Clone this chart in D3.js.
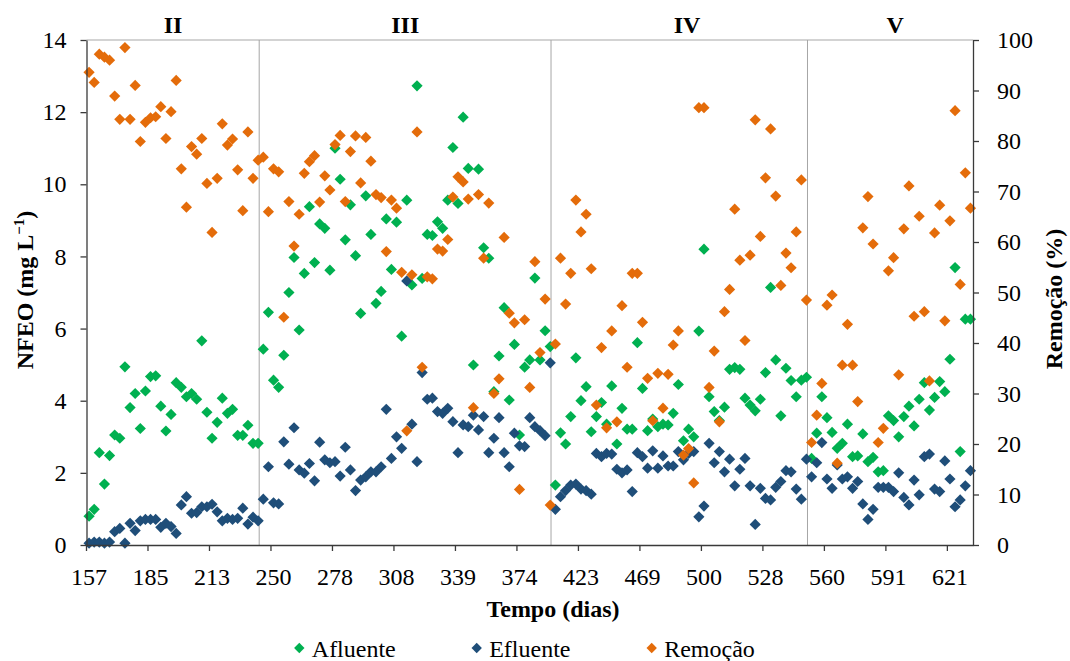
<!DOCTYPE html>
<html>
<head>
<meta charset="utf-8">
<script src="https://cdn.jsdelivr.net/npm/d3@7"></script>
<style>
  html, body { margin: 0; padding: 0; background: #fff; }
  svg { display: block; }
  svg text { font-family: 'Liberation Serif', 'Times New Roman', serif; }
</style>
</head>
<body>
<svg id="chart" width="1070" height="661"></svg>
<script>
// NFEO influent/effluent concentrations (mg L-1) and removal (%) per sample
const afluente = [
  0.80, 0.99, 2.56, 1.69, 2.48, 3.05, 2.96, 4.94, 3.81, 4.20,
  3.23, 4.27, 4.67, 4.69, 3.85, 3.16, 3.62, 4.50, 4.37, 4.11,
  4.20, 4.04, 5.66, 3.68, 2.96, 3.40, 4.07, 3.65, 3.76, 3.04,
  3.04, 3.32, 2.82, 2.82, 5.43, 6.45, 4.57, 4.37, 5.26, 7.00,
  7.97, 5.96, 7.53, 9.38, 7.83, 8.90, 8.78, 7.62, 11.0, 10.14,
  8.46, 9.43, 8.02, 6.42, 9.68, 8.61, 6.70, 7.03, 9.04, 7.64,
  8.95, 5.79, 9.56, 7.21, 12.73, 7.39, 8.61, 8.58, 8.96, 8.78,
  9.56, 11.02, 9.47, 11.86, 10.44, 4.99, 10.42, 8.24, 7.95, 4.25,
  5.24, 6.58, 4.02, 5.56, 3.05, 4.93, 5.13, 7.40, 5.13, 5.94,
  5.50, 1.66, 3.11, 2.80, 3.56, 5.19, 4.00, 4.39, 3.14, 3.56,
  3.95, 3.35, 4.41, 2.80, 3.79, 3.21, 3.21, 5.61, 4.34, 3.17,
  3.49, 3.28, 3.35, 3.33, 3.65, 4.45, 2.89, 3.21, 3.00, 5.93,
  8.20, 4.11, 3.70, 3.45, 3.82, 4.87, 4.92, 4.87, 4.07, 3.88,
  3.72, 4.04, 4.78, 7.14, 5.13, 3.58, 4.90, 4.56, 4.11, 4.57,
  4.65, 2.40, 3.10, 4.11, 3.53, 3.12, 2.68, 2.82, 3.35, 2.45,
  2.47, 3.08, 2.31, 2.43, 2.03, 2.06, 3.58, 3.45, 3.00, 3.56,
  3.85, 3.30, 4.04, 4.50, 3.74, 4.09, 4.53, 4.25, 5.15, 7.69,
  2.59, 6.26, 6.26
];

const efluente = [
  0.05, 0.08, 0.08, 0.05, 0.08, 0.37, 0.46, 0.05, 0.60, 0.40,
  0.67, 0.71, 0.71, 0.71, 0.49, 0.60, 0.51, 0.32, 1.11, 1.34,
  0.88, 0.90, 1.06, 1.06, 1.13, 0.92, 0.67, 0.74, 0.71, 0.74,
  1.02, 0.58, 0.77, 0.67, 1.27, 2.17, 1.17, 1.14, 2.86, 2.24,
  3.25, 2.08, 1.99, 2.26, 1.78, 2.85, 2.36, 2.28, 2.31, 1.91,
  2.71, 2.08, 1.51, 1.80, 1.89, 2.03, 2.03, 2.17, 3.76, 2.40,
  3.00, 2.68, 7.32, 3.35, 2.31, 4.78, 4.04, 4.07, 3.70, 3.65,
  3.79, 3.42, 2.56, 3.33, 3.28, 3.60, 3.19, 3.56, 2.56, 2.96,
  3.53, 2.56, 2.17, 3.10, 2.75, 2.73, 3.53, 3.28, 3.17, 3.03,
  5.05, 0.99, 1.34, 1.51, 1.66, 1.69, 1.55, 1.51, 1.41, 2.54,
  2.45, 2.54, 2.52, 2.10, 2.00, 2.08, 1.48, 2.56, 2.45, 2.13,
  2.61, 2.13, 2.47, 2.19, 2.19, 2.59, 2.36, 2.54, 2.59, 0.78,
  1.08, 2.82, 2.28, 2.59, 2.03, 2.38, 1.64, 2.10, 2.40, 1.64,
  0.57, 1.57, 1.29, 1.25, 1.60, 1.76, 2.06, 2.03, 1.55, 1.27,
  2.38, 1.89, 2.28, 2.84, 1.83, 1.57, 2.22, 1.83, 1.89, 1.57,
  1.76, 1.14, 0.71, 0.99, 1.60, 1.60, 1.60, 1.48, 2.00, 1.32,
  1.11, 1.80, 1.39, 2.45, 2.52, 1.55, 1.48, 2.33, 1.83, 1.06,
  1.25, 1.64, 2.06
];

const remocao = [
  93.6, 91.6, 97.2, 96.6, 96.0, 88.9, 84.3, 98.5, 84.3, 91.0,
  79.9, 83.7, 84.6, 84.8, 86.8, 80.5, 85.8, 92.0, 74.5, 66.9,
  78.9, 77.4, 80.5, 71.6, 61.9, 72.6, 83.4, 79.2, 80.4, 74.3,
  66.2, 81.8, 72.6, 76.2, 76.8, 66.0, 74.5, 73.9, 45.1, 68.0,
  59.2, 65.5, 73.6, 75.9, 77.1, 67.9, 73.1, 70.3, 79.3, 81.1,
  68.0, 77.9, 81.0, 71.7, 80.7, 76.0, 69.4, 68.8, 58.1, 68.3,
  66.7, 54.0, 22.6, 53.5, 81.8, 35.2, 53.1, 52.7, 58.6, 58.2,
  60.5, 68.9, 72.9, 71.9, 68.5, 27.2, 69.4, 56.8, 67.7, 30.0,
  32.9, 60.9, 45.9, 44.0, 11.0, 44.6, 31.2, 56.1, 38.1, 48.7,
  7.9, 39.8, 56.8, 47.7, 53.8, 68.3, 62.0, 65.5, 54.7, 27.7,
  39.1, 23.2, 42.4, 24.4, 47.4, 35.2, 53.8, 53.8, 44.1, 33.0,
  24.6, 34.0, 27.1, 33.8, 39.6, 42.4, 17.8, 19.1, 12.3, 86.6,
  86.6, 31.2, 38.4, 24.4, 46.2, 50.6, 66.5, 56.4, 40.5, 57.4,
  84.2, 61.1, 72.7, 82.4, 69.1, 51.4, 57.8, 54.9, 62.0, 72.3,
  48.5, 20.3, 25.7, 32.0, 47.5, 49.5, 16.2, 35.6, 43.7, 35.6,
  28.4, 62.8, 69.0, 59.6, 20.3, 23.1, 54.3, 56.9, 33.7, 62.6,
  71.1, 45.3, 65.1, 46.2, 32.5, 61.8, 67.3, 44.4, 64.2, 86.0,
  51.6, 73.7, 66.7
];

// Day labels shown every 12 samples on the category axis
const tickDays = [157, 185, 213, 250, 278, 308, 339, 374, 423, 469, 500, 528, 560, 591, 621];
const tickEvery = 12;

// Operational phases: boundaries and label positions in sample units
const phaseNames = ["II", "III", "IV", "V"];
const phaseLabelAt = [16.4, 61.7, 116.7, 157.3];
const phaseBreaks = [33.2, 90.15, 140.2];

const leftTicks = [0, 2, 4, 6, 8, 10, 12, 14];
const rightTicks = [0, 10, 20, 30, 40, 50, 60, 70, 80, 90, 100];

const series = [
  { name: "Afluente", values: afluente, axis: "left",  color: "#00B050" },
  { name: "Efluente", values: efluente, axis: "left",  color: "#1F4E79" },
  { name: "Remoção",  values: remocao,  axis: "right", color: "#E46C0A" }
];

const N = afluente.length;
const SERIF = "'Liberation Serif', 'Times New Roman', serif";
const svg = d3.select("#chart").attr("font-family", SERIF);
const box = { left: 86.5, right: 973, top: 40, bottom: 545 };
const FONT = 24;

const x = d3.scaleBand().domain(d3.range(N)).range([box.left, box.right]).padding(0);
const bw = x.bandwidth();
const cx = i => x(i) + bw / 2;
const xPos = v => box.left + (v + 0.5) * bw;   // fractional sample position
const yL = d3.scaleLinear().domain([0, 14]).range([box.bottom, box.top]);
const yR = d3.scaleLinear().domain([0, 100]).range([box.bottom, box.top]);

// top border of the plot area
svg.append("line")
  .attr("x1", box.left).attr("x2", box.right)
  .attr("y1", box.top).attr("y2", box.top)
  .attr("stroke", "#c4c4c4").attr("stroke-width", 1.3);

// phase separators
svg.append("g").selectAll("line").data(phaseBreaks).join("line")
  .attr("x1", d => xPos(d)).attr("x2", d => xPos(d))
  .attr("y1", box.top).attr("y2", box.bottom)
  .attr("stroke", "#a6a6a6").attr("stroke-width", 1);

// phase labels
svg.append("g").selectAll("text").data(phaseNames).join("text")
  .attr("x", (d, i) => xPos(phaseLabelAt[i]))
  .attr("y", 33)
  .attr("text-anchor", "middle")
  .attr("font-weight", "bold")
  .attr("font-size", FONT)
  .text(d => d);

const diamond = r => `M0,${-r}L${r},0L0,${r}L${-r},0Z`;

// markers
series.forEach(s => {
  const y = s.axis === "left" ? yL : yR;
  svg.append("g").selectAll("path").data(s.values).join("path")
    .attr("d", diamond(5.6))
    .attr("transform", (d, i) => `translate(${cx(i)},${y(d)})`)
    .attr("fill", s.color);
});

// axes
function styleAxis(g) {
  g.attr("font-family", SERIF).attr("font-size", FONT);
  g.selectAll("path.domain").attr("stroke", "#3a3a3a").attr("stroke-width", 1.3);
  g.selectAll(".tick line").attr("stroke", "#3a3a3a").attr("stroke-width", 1.3);
  g.selectAll(".tick text").attr("fill", "#000");
}

const gx = svg.append("g")
  .attr("transform", `translate(0,${box.bottom})`)
  .call(d3.axisBottom(x)
    .tickValues(d3.range(0, N, tickEvery).slice(0, tickDays.length))
    .tickFormat((d, i) => tickDays[i])
    .tickSize(6).tickSizeOuter(0).tickPadding(17));
gx.selectAll(".tick line").attr("x1", -bw / 2).attr("x2", -bw / 2);
styleAxis(gx);

const gl = svg.append("g")
  .attr("transform", `translate(${box.left},0)`)
  .call(d3.axisLeft(yL).tickValues(leftTicks).tickSize(6).tickSizeOuter(0).tickPadding(14));
styleAxis(gl);

const gr = svg.append("g")
  .attr("transform", `translate(${box.right},0)`)
  .call(d3.axisRight(yR).tickValues(rightTicks).tickSize(6).tickSizeOuter(0).tickPadding(18));
styleAxis(gr);

// axis titles
svg.append("text")
  .attr("x", 553).attr("y", 617)
  .attr("text-anchor", "middle").attr("font-weight", "bold").attr("font-size", FONT)
  .text("Tempo (dias)");

const yt = svg.append("text")
  .attr("transform", "translate(33,290) rotate(-90)")
  .attr("text-anchor", "middle").attr("font-weight", "bold").attr("font-size", FONT);
yt.append("tspan").text("NFEO (mg L");
yt.append("tspan").attr("dy", -9).attr("font-size", 15).text("−1");
yt.append("tspan").attr("dy", 9).text(")");

svg.append("text")
  .attr("transform", "translate(1062,299) rotate(-90)")
  .attr("text-anchor", "middle").attr("font-weight", "bold").attr("font-size", FONT)
  .text("Remoção (%)");

// legend
const legendX = [299.3, 476.7, 651.7];
const lg = svg.append("g").selectAll("g").data(series).join("g")
  .attr("transform", (d, i) => `translate(${legendX[i]},648)`);
lg.append("path").attr("d", diamond(5.2)).attr("fill", d => d.color);
lg.append("text").attr("x", 12.5).attr("y", 8.5)
  .attr("font-size", FONT).text(d => d.name);

// make sure every label uses the serif face
svg.selectAll("text").style("font-family", SERIF);
</script>
</body>
</html>
